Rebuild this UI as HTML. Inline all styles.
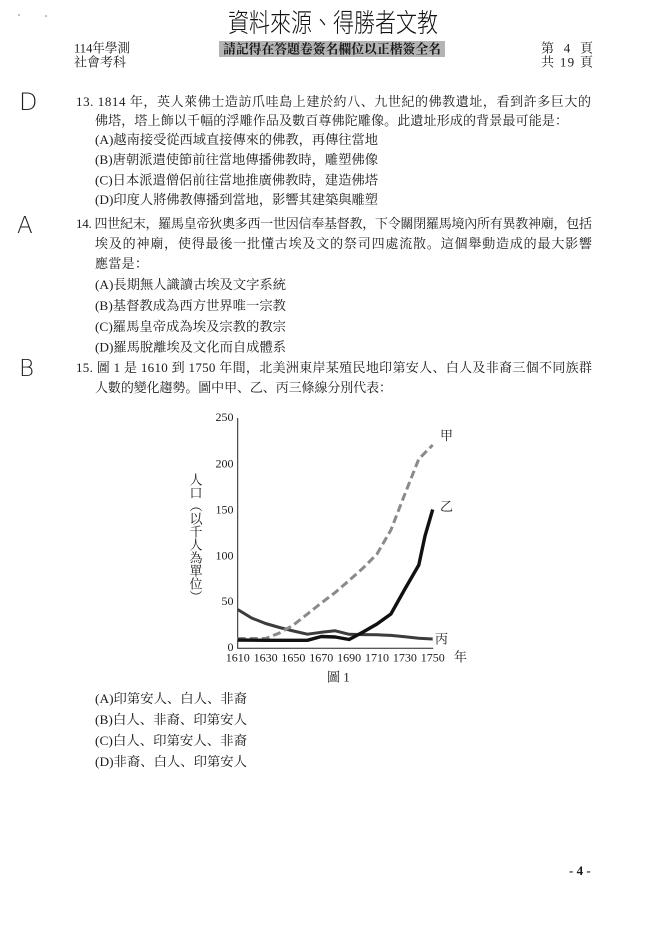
<!DOCTYPE html>
<html>
<head>
<meta charset="utf-8">
<style>
html,body{margin:0;padding:0;background:#fff;}
svg{display:block;}
.t{font-family:"Liberation Serif","Noto Serif CJK SC","Noto Serif CJK TC",serif;font-size:13px;fill:#1a1a1a;}
.s{font-family:"Liberation Serif","Noto Serif CJK SC",serif;font-size:12px;fill:#1a1a1a;}
.h{font-family:"Noto Sans CJK TC","Noto Sans CJK SC",sans-serif;font-weight:300;fill:#111;}
.hw{font-family:"DejaVu Sans",sans-serif;font-weight:200;fill:#222;}
</style>
</head>
<body>
<svg width="656" height="927" viewBox="0 0 656 927" xmlns="http://www.w3.org/2000/svg">
<rect width="656" height="927" fill="#fff"/>

<!-- stray dots -->
<circle cx="19" cy="15" r="0.8" fill="#777"/>
<circle cx="46" cy="16" r="0.8" fill="#777"/>

<!-- Header -->
<text class="h" x="228" y="32" font-size="26" textLength="210" lengthAdjust="spacingAndGlyphs">資料來源、得勝者文教</text>
<rect x="219" y="41" width="226" height="16" fill="#b4b4b4"/>
<text class="t" x="223" y="53.5" font-size="12.5" font-weight="bold" textLength="218" lengthAdjust="spacingAndGlyphs">請記得在答題卷簽名欄位以正楷簽全名</text>
<text class="t" x="74" y="52.5" textLength="56" lengthAdjust="spacingAndGlyphs">114年學測</text>
<text class="t" x="74" y="66.5" textLength="52" lengthAdjust="spacingAndGlyphs">社會考科</text>
<text class="t" x="541" y="52.5" textLength="52" lengthAdjust="spacing">第 4 頁</text>
<text class="t" x="541" y="66.5" textLength="52" lengthAdjust="spacing">共 19 頁</text>

<!-- Handwritten answers -->
<text class="hw" x="19" y="110" font-size="24">D</text>
<text class="hw" x="17" y="233" font-size="23">A</text>
<text class="hw" x="19" y="376" font-size="23">B</text>

<!-- Q13 -->
<text class="t" x="76" y="106" textLength="515" lengthAdjust="spacing">13. 1814 年，英人萊佛士造訪爪哇島上建於約八、九世紀的佛教遺址，看到許多巨大的</text>
<text class="t" x="95" y="125" textLength="473" lengthAdjust="spacing">佛塔，塔上飾以千幅的浮雕作品及數百尊佛陀雕像。此遺址形成的背景最可能是：</text>
<text class="t" x="95" y="144" textLength="283" lengthAdjust="spacingAndGlyphs">(A)越南接受從西域直接傳來的佛教，再傳往當地</text>
<text class="t" x="95" y="164" textLength="283" lengthAdjust="spacingAndGlyphs">(B)唐朝派遣使節前往當地傳播佛教時，雕塑佛像</text>
<text class="t" x="95" y="184.5" textLength="283" lengthAdjust="spacingAndGlyphs">(C)日本派遣僧侶前往當地推廣佛教時，建造佛塔</text>
<text class="t" x="95" y="204" textLength="283" lengthAdjust="spacingAndGlyphs">(D)印度人將佛教傳播到當地，影響其建築與雕塑</text>

<!-- Q14 -->
<text class="t" x="76" y="228" textLength="516" lengthAdjust="spacing">14. 四世紀末，羅馬皇帝狄奧多西一世因信奉基督教，下令關閉羅馬境內所有異教神廟，包括</text>
<text class="t" x="95" y="248" textLength="497" lengthAdjust="spacing">埃及的神廟，使得最後一批懂古埃及文的祭司四處流散。這個舉動造成的最大影響</text>
<text class="t" x="95" y="268" textLength="53" lengthAdjust="spacing">應當是：</text>
<text class="t" x="95" y="289" textLength="191" lengthAdjust="spacingAndGlyphs">(A)長期無人識讀古埃及文字系統</text>
<text class="t" x="95" y="310" textLength="191" lengthAdjust="spacingAndGlyphs">(B)基督教成為西方世界唯一宗教</text>
<text class="t" x="95" y="331" textLength="191" lengthAdjust="spacingAndGlyphs">(C)羅馬皇帝成為埃及宗教的教宗</text>
<text class="t" x="95" y="351.5" textLength="191" lengthAdjust="spacingAndGlyphs">(D)羅馬脫離埃及文化而自成體系</text>

<!-- Q15 -->
<text class="t" x="76" y="372" textLength="516" lengthAdjust="spacing">15. 圖 1 是 1610 到 1750 年間，北美洲東岸某殖民地印第安人、白人及非裔三個不同族群</text>
<text class="t" x="95" y="392" textLength="297" lengthAdjust="spacing">人數的變化趨勢。圖中甲、乙、丙三條線分別代表：</text>

<!-- Chart axes -->
<line x1="237.7" y1="418" x2="237.7" y2="648.3" stroke="#222" stroke-width="1"/>
<line x1="237.2" y1="648.3" x2="433.3" y2="648.3" stroke="#222" stroke-width="1"/>

<!-- Y tick labels -->
<g class="s" text-anchor="end">
<text x="233.5" y="421">250</text>
<text x="233.5" y="467.5">200</text>
<text x="233.5" y="513.6">150</text>
<text x="233.5" y="559.4">100</text>
<text x="233.5" y="605.2">50</text>
<text x="233.5" y="651">0</text>
</g>

<!-- X tick labels -->
<g class="s" text-anchor="middle">
<text x="237.7" y="661.5">1610</text>
<text x="265.6" y="661.5">1630</text>
<text x="293.4" y="661.5">1650</text>
<text x="321.3" y="661.5">1670</text>
<text x="349.1" y="661.5">1690</text>
<text x="377" y="661.5">1710</text>
<text x="404.9" y="661.5">1730</text>
<text x="432.7" y="661.5">1750</text>
</g>
<text class="t" x="454" y="661.5">年</text>

<!-- Y-axis title (vertical) -->
<g class="t" font-size="12" text-anchor="middle">
<text x="196" y="484.5">人</text>
<text x="196" y="497.5">口</text>
<text x="196" y="510.5">︵</text>
<text x="196" y="523.5">以</text>
<text x="196" y="536.5">千</text>
<text x="196" y="549.5">人</text>
<text x="196" y="562.5">為</text>
<text x="196" y="575.5">單</text>
<text x="196" y="588.5">位</text>
<text x="196" y="601.5">︶</text>
</g>

<!-- Series 丙 -->
<polyline fill="none" stroke="#3c3c3c" stroke-width="3" stroke-linejoin="round"
 points="237.7,609.5 251.6,618 265.6,623.5 279.5,627.5 293.4,631 307.4,634.2 321.3,632.3 335.2,630.8 349.1,634.3 363.1,634.6 377,634.8 390.9,635.4 404.9,636.8 418.8,638.3 432.7,639"/>

<!-- Series 甲 (dashed) -->
<polyline fill="none" stroke="#8a8a8a" stroke-width="3" stroke-dasharray="8,4" stroke-linejoin="round"
 points="237.7,638.5 265.6,638.5 279.5,633 293.4,625 307.4,614 321.3,603 335.2,592.5 349.1,580.5 363.1,568 377,554 390.9,530 404.9,494 418.8,459 432.7,445"/>

<!-- Series 乙 -->
<polyline fill="none" stroke="#111" stroke-width="3.4" stroke-linejoin="round"
 points="238,640 265.6,640.3 307.4,640.3 321.3,636.5 335.2,637 349.1,639.5 363.1,632 377,624 390.9,614 404.9,589 418.8,565 425,536 432.7,509.5"/>

<!-- Series labels -->
<text class="t" x="440" y="440">甲</text>
<text class="t" x="440" y="511">乙</text>
<text class="t" x="435" y="643.5">丙</text>

<!-- Figure caption -->
<text class="t" x="327" y="681.5" font-size="12.5">圖 1</text>

<!-- Options -->
<text class="t" x="95" y="703" textLength="152" lengthAdjust="spacingAndGlyphs">(A)印第安人、白人、非裔</text>
<text class="t" x="95" y="724" textLength="152" lengthAdjust="spacingAndGlyphs">(B)白人、非裔、印第安人</text>
<text class="t" x="95" y="745" textLength="152" lengthAdjust="spacingAndGlyphs">(C)白人、印第安人、非裔</text>
<text class="t" x="95" y="766" textLength="152" lengthAdjust="spacingAndGlyphs">(D)非裔、白人、印第安人</text>

<!-- Page number -->
<text class="t" x="569" y="875" font-size="12.5" font-weight="bold">- 4 -</text>
</svg>
</body>
</html>
